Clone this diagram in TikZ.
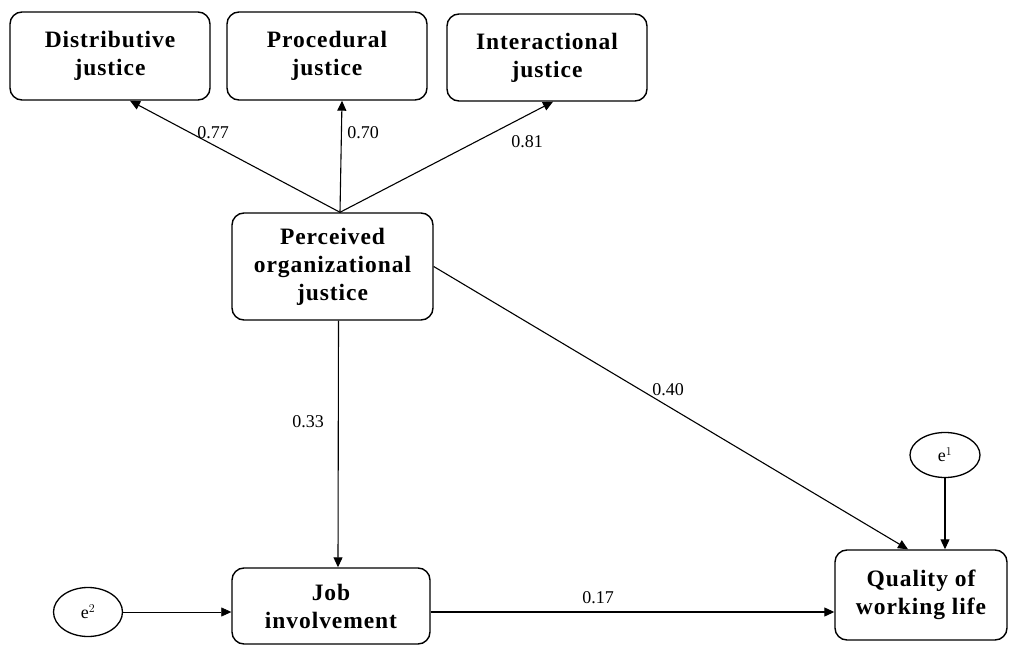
\documentclass[tikz,border=0pt]{standalone}
\usepackage{fontspec}
\setmainfont{Liberation Serif}
\newfontfamily\boxfont{Liberation Serif}[LetterSpace=4]
\usetikzlibrary{arrows.meta,shapes.geometric}
\begin{document}
\begin{tikzpicture}[x=1pt,y=-1pt,
  box/.style={draw,line width=1.4pt,rounded corners=12pt,align=center,
    font=\boxfont\bfseries\fontsize{23.5}{28}\selectfont,inner sep=0pt},
  err/.style={draw,line width=1.3pt,ellipse,inner sep=0pt,font=\fontsize{18}{21}\selectfont},
  lab/.style={font=\fontsize{18}{21}\selectfont,inner sep=1pt},
  arr/.style={line width=1.1pt,-{Triangle[length=10pt,width=9pt]}}]
\fill[white] (0,0) rectangle (1010,647);
\useasboundingbox (0,0) rectangle (1010,647);
\node[box,minimum width=200pt,minimum height=88pt] (dist) at (110,56) {Distributive\\justice};
\node[box,minimum width=200pt,minimum height=88pt] (proc) at (327,56) {Procedural\\justice};
\node[box,minimum width=200pt,minimum height=87pt] (inter) at (547,57.5) {Interactional\\justice};
\node[box,minimum width=201pt,minimum height=107pt] (perc) at (332.5,266.5) {Perceived\\organizational\\justice};
\node[box,minimum width=198pt,minimum height=76pt] (job) at (331,606) {Job\\involvement};
\node[box,minimum width=172pt,minimum height=90pt] (qual) at (921,595) {Quality of\\working life};
\node[err,minimum width=70pt,minimum height=45pt] (e1) at (945,455) {e$^{1}$};
\node[err,minimum width=69pt,minimum height=49pt] (e2) at (88,612) {e$^{2}$};

\draw[arr] ([xshift=7.5pt]perc.north) -- ([xshift=20pt]dist.south);
\draw[arr] ([xshift=7.5pt]perc.north) -- ([xshift=15pt]proc.south);
\draw[arr] ([xshift=7.5pt]perc.north) -- ([xshift=6pt]inter.south);
\draw[arr] ([xshift=6pt]perc.south) -- ([xshift=7pt]job.north);
\draw[arr] (perc.east) -- ([xshift=-13pt]qual.north);
\draw[arr] (e1.south) -- (e1.south |- qual.north);
\draw[line width=0.6pt,-{Triangle[length=10pt,width=9pt]}] (e2.east) -- (e2.east -| job.west);
\draw[arr] ([yshift=-6pt]job.east) -- ([yshift=-6pt]job.east -| qual.west);

\node[lab] (l77) at (213,133) {0.77};
\node[lab] (l70) at (363,133) {0.70};
\node[lab] (l81) at (527,142) {0.81};
\node[lab] (l40) at (668,390) {0.40};
\node[lab] (l33) at (308,422) {0.33};
\node[lab] (l17) at (598,598) {0.17};
\end{tikzpicture}
\end{document}
